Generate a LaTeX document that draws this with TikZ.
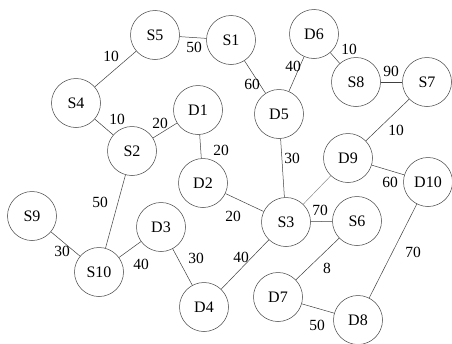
\documentclass[tikz,border=0pt]{standalone}
\usepackage{fontspec}
\setmainfont{Liberation Serif}
\begin{document}
\begin{tikzpicture}[x=1pt,y=-1pt,
  vert/.style={circle,draw=black!75,line width=0.5pt,minimum size=49pt,inner sep=0pt,font=\fontsize{16}{19}\selectfont},
  lbl/.style={inner sep=0pt,font=\fontsize{15.5}{18}\selectfont},
  con/.style={draw=black!75,line width=0.5pt}]
\useasboundingbox (0,0) rectangle (452,343);
\node[vert] (S5) at (155,35) {S5};
\node[vert] (S1) at (231,40) {S1};
\node[vert] (D6) at (314,34) {D6};
\node[vert] (S8) at (356,82) {S8};
\node[vert] (S7) at (427,82) {S7};
\node[vert] (D5) at (279,114) {D5};
\node[vert] (S4) at (76,103) {S4};
\node[vert] (D1) at (198,110) {D1};
\node[vert] (S2) at (132,151) {S2};
\node[vert] (D2) at (203,183) {D2};
\node[vert] (D9) at (348,158) {D9};
\node[vert] (D10) at (428,182) {D10};
\node[vert] (S9) at (32,216) {S9};
\node[vert] (D3) at (161,227) {D3};
\node[vert] (S3) at (286,222) {S3};
\node[vert] (S6) at (357,221) {S6};
\node[vert] (S10) at (99,272) {S10};
\node[vert] (D4) at (204,307) {D4};
\node[vert] (D7) at (278,297) {D7};
\node[vert] (D8) at (358,320) {D8};

\draw[con] (S5) -- (S1);
\draw[con] (S5) -- (S4);
\draw[con] (S4) -- (S2);
\draw[con] (S2) -- (D1);
\draw[con] (D1) -- (D2);
\draw[con] (S1) -- (D5);
\draw[con] (D6) -- (D5);
\draw[con] (D6) -- (S8);
\draw[con] (S8) -- (S7);
\draw[con] (S7) -- (D9);
\draw[con] (D5) -- (S3);
\draw[con] (D9) -- (D10);
\draw[con,draw=black!45] (S3) -- (D9);
\draw[con] (D2) -- (S3);
\draw[con] (S3) -- (S6);
\draw[con] (S3) -- (D4);
\draw[con] (S6) -- (D7);
\draw[con] (D7) -- (D8);
\draw[con] (D10) -- (D8);
\draw[con] (S2) -- (S10);
\draw[con] (S9) -- (S10);
\draw[con] (S10) -- (D3);
\draw[con] (D3) -- (D4);

\node[lbl] (l1) at (194,47) {50};
\node[lbl] (l2) at (111,56) {10};
\node[lbl] (l3) at (117,119) {10};
\node[lbl] (l4) at (160,123) {20};
\node[lbl] (l5) at (221,150) {20};
\node[lbl] (l6) at (252,84) {60};
\node[lbl] (l7) at (293,66) {40};
\node[lbl] (l8) at (349,49) {10};
\node[lbl] (l9) at (391,71) {90};
\node[lbl] (l10) at (396,130) {10};
\node[lbl] (l11) at (292,158) {30};
\node[lbl] (l12) at (390,182) {60};
\node[lbl] (l13) at (233,216) {20};
\node[lbl] (l14) at (320,210) {70};
\node[lbl] (l15) at (241,257) {40};
\node[lbl] (l16) at (327,268) {8};
\node[lbl] (l17) at (317,325) {50};
\node[lbl] (l18) at (413,252) {70};
\node[lbl] (l19) at (100,202) {50};
\node[lbl] (l20) at (62,251) {30};
\node[lbl] (l21) at (141,264) {40};
\node[lbl] (l22) at (196,258) {30};
\end{tikzpicture}
\end{document}
